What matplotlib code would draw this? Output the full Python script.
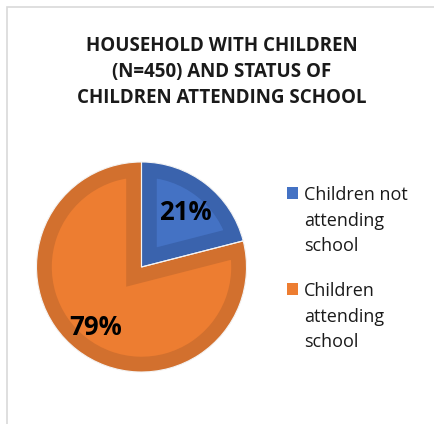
import matplotlib
matplotlib.use("Agg")
import matplotlib.pyplot as plt
from matplotlib.patches import Rectangle

# data
labels = ["Children not\nattending\nschool", "Children\nattending\nschool"]
shares = [21, 79]
fills = ["#4472C4", "#ED7D31"]
edges = ["#3A63AD", "#D2702E"]
title = "HOUSEHOLD WITH CHILDREN\n(N=450) AND STATUS OF\nCHILDREN ATTENDING SCHOOL"

plt.rcParams["font.family"] = ["Open Sans", "DejaVu Sans"]
W, H = 434, 424
fig = plt.figure(figsize=(W/100, H/100), dpi=100)

# light frame, only top/left edges visible in the crop
fig.add_artist(Rectangle((6.5/W, -0.1), 1.2, (H-6.5)/H + 0.1, transform=fig.transFigure,
                         fill=False, ec="#D9D9D9", lw=1.2))

fig.text(222/W, 1-72/H, title, ha="center", va="center", fontsize=13.5,
         fontweight="bold", linespacing=1.42, color="#1a1a1a")

ax = fig.add_axes([36/W, (H-372)/H, 211/W, 210/H])
wedges, _ = ax.pie(shares, colors=fills, startangle=90, counterclock=False,
                   wedgeprops=dict(lw=0))
for w, ec in zip(wedges, edges):
    # darker band on the inside of each slice
    w.set_edgecolor(ec); w.set_linewidth(22)
    w.set_clip_on(True)
    w.set_clip_path(w.get_path(), w.get_transform())
ax.pie(shares, colors=["none"]*2, startangle=90, counterclock=False,
       wedgeprops=dict(lw=0.8, edgecolor="#f4f4f4", fill=False))
ax.set_xlim(-1.0, 1.0); ax.set_ylim(-1.0, 1.0)
ax.set_aspect("equal")

# percentage labels
pos = [(0.42, 0.52), (-0.44, -0.58)]
for (x, y), v in zip(pos, shares):
    ax.text(x, y, f"{v}%", ha="center", va="center", fontsize=18.5,
            fontweight="bold", color="black")

# legend drawn manually to put the key beside the first line
ys = [193, 289]
for y, lab, c in zip(ys, labels, fills):
    fig.add_artist(Rectangle((287/W, 1-(y+6)/H), 11/W, 12/H, transform=fig.transFigure,
                             color=c, lw=0))
    fig.text(304/W, 1-(y-7)/H, lab, ha="left", va="top", fontsize=13,
             linespacing=1.55, color="#1a1a1a")

fig.savefig("out.png", dpi=100)
